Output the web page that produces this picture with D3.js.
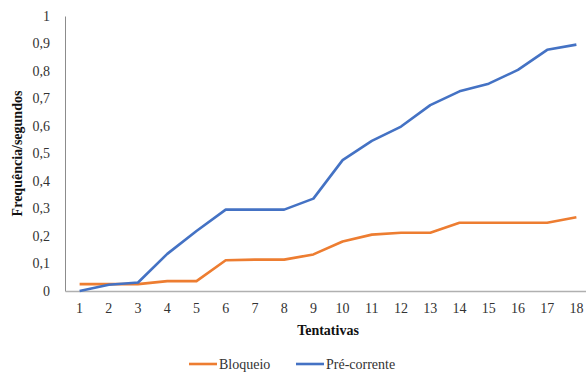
<!DOCTYPE html>
<html>
<head>
<meta charset="utf-8">
<script src="https://cdn.jsdelivr.net/npm/d3@7"></script>
<style>
  html, body { margin: 0; padding: 0; background: #fff; }
  svg text { font-family: "Liberation Serif", "Times New Roman", Tinos, "Noto Serif", "DejaVu Serif", serif !important; }
</style>
</head>
<body>
<svg id="chart" width="586" height="374"></svg>
<script>
// Trials on the x axis
const trials = ["1","2","3","4","5","6","7","8","9","10","11","12","13","14","15","16","17","18"];
// Cumulative frequency per second for each condition
const bloqueio = [0.025, 0.025, 0.025, 0.036, 0.036, 0.112, 0.114, 0.114, 0.133, 0.180, 0.205, 0.212, 0.212, 0.248, 0.248, 0.248, 0.248, 0.268];
const preCorrente = [0.0, 0.023, 0.031, 0.135, 0.218, 0.296, 0.296, 0.296, 0.336, 0.476, 0.546, 0.598, 0.676, 0.726, 0.754, 0.804, 0.877, 0.896];
const yTicks = [0, 0.1, 0.2, 0.3, 0.4, 0.5, 0.6, 0.7, 0.8, 0.9, 1];

const series = [
  { name: "Bloqueio", values: bloqueio, color: "#ED7D31" },
  { name: "Pré-corrente", values: preCorrente, color: "#4472C4" }
];

const svg = d3.select("#chart");
const plotLeft = 65, plotRight = 591, plotTop = 16, plotBottom = 291;

const x = d3.scaleBand().domain(trials).range([plotLeft, plotRight]);
const y = d3.scaleLinear().domain([0, 1]).range([plotBottom, plotTop]);

const fmt = v => (v === 0 || v === 1) ? String(v) : d3.format(".1f")(v).replace(".", ",");

// y axis
const yAxis = svg.append("g")
  .attr("transform", `translate(${plotLeft},0)`)
  .call(d3.axisLeft(y).tickValues(yTicks).tickFormat(fmt).tickSize(0).tickPadding(15));
yAxis.select(".domain").attr("stroke", "#8c8c8c").attr("stroke-width", 1);
yAxis.selectAll("text").attr("font-size", 14).attr("fill", "#333");

// x axis
const xAxis = svg.append("g")
  .attr("transform", `translate(0,${plotBottom})`)
  .call(d3.axisBottom(x).tickSize(0).tickPadding(12));
xAxis.select(".domain").attr("stroke", "#b0b0b0").attr("stroke-width", 1.3);
xAxis.selectAll("text").attr("font-size", 14).attr("fill", "#333");

// axis titles
svg.append("text")
  .attr("x", 328).attr("y", 335)
  .attr("text-anchor", "middle")
  .attr("font-size", 14).attr("font-weight", "bold").attr("fill", "#111")
  .text("Tentativas");

svg.append("text")
  .attr("transform", `translate(22,${(plotTop + plotBottom) / 2}) rotate(-90)`)
  .attr("text-anchor", "middle")
  .attr("font-size", 14).attr("font-weight", "bold").attr("fill", "#111")
  .text("Frequência/segundos");

// lines
const line = d3.line()
  .x((d, i) => x(trials[i]) + x.bandwidth() / 2)
  .y(d => y(d));

svg.selectAll("path.series")
  .data(series)
  .join("path")
  .attr("class", "series")
  .attr("fill", "none")
  .attr("stroke", d => d.color)
  .attr("stroke-width", 2.6)
  .attr("stroke-linejoin", "round")
  .attr("d", d => line(d.values));

// legend
const legendItems = [
  { name: series[0].name, color: series[0].color, x: 189, tx: 219 },
  { name: series[1].name, color: series[1].color, x: 296, tx: 326 }
];
const lg = svg.append("g");
legendItems.forEach(it => {
  lg.append("line")
    .attr("x1", it.x).attr("x2", it.x + 28)
    .attr("y1", 364).attr("y2", 364)
    .attr("stroke", it.color).attr("stroke-width", 2.6);
  lg.append("text")
    .attr("x", it.tx).attr("y", 369)
    .attr("font-size", 14).attr("fill", "#333")
    .text(it.name);
});
</script>
</body>
</html>
